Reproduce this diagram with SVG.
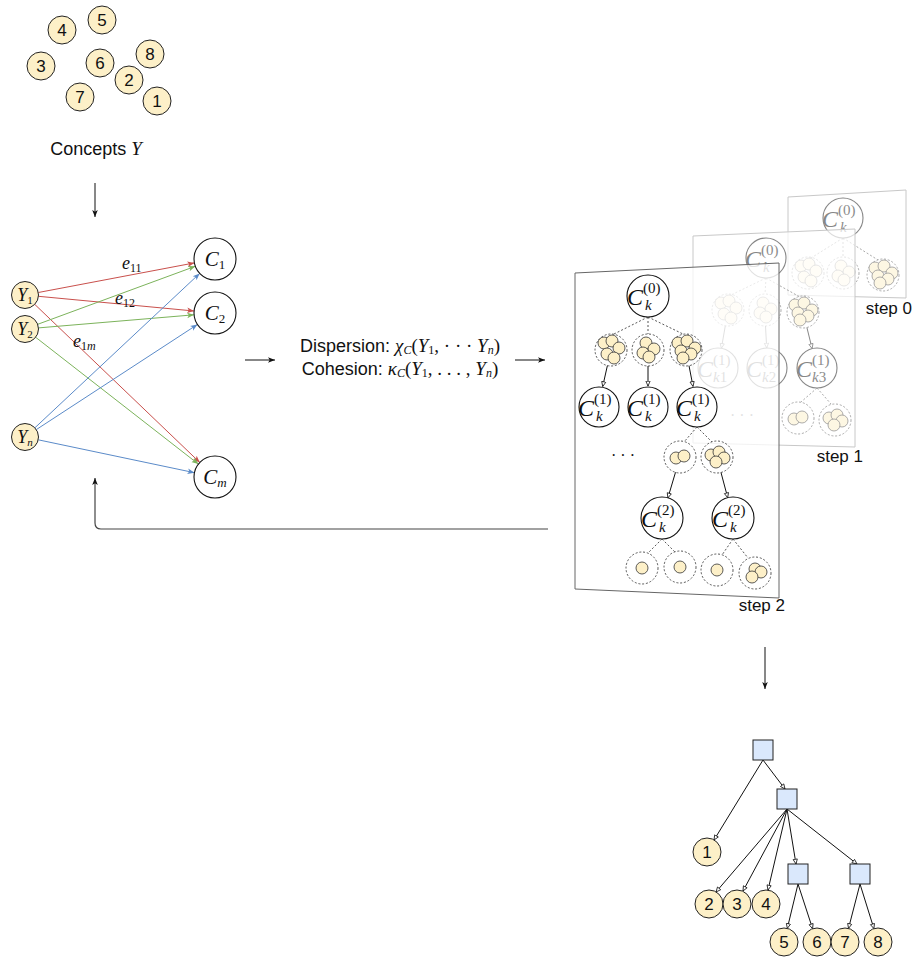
<svg xmlns="http://www.w3.org/2000/svg" width="913" height="960" viewBox="0 0 913 960">
<style>
.sans{font-family:"Liberation Sans","DejaVu Sans",sans-serif;fill:#111}
.m{font-family:"Liberation Serif","DejaVu Serif",serif;font-style:italic;fill:#111}
.u{font-family:"Liberation Serif","DejaVu Serif",serif;font-style:normal;fill:#111}
.yc{fill:#fdf0c8;stroke:#222;stroke-width:1}
.wn{fill:#fff;stroke:#111;stroke-width:1.1}
.dc{fill:none;stroke:#444;stroke-width:0.9;stroke-dasharray:2 1.8}
.dl{fill:none;stroke:#444;stroke-width:0.9;stroke-dasharray:2 2}
.sc{fill:#fdf0c8;stroke:#333;stroke-width:0.8}
.ar{fill:none;stroke:#111;stroke-width:1;marker-end:url(#oa)}
.sq{fill:#dae8fc;stroke:#222;stroke-width:1}
.bl{fill:none;stroke:#111;stroke-width:1;marker-end:url(#ah)}
.er{fill:none;stroke:#c9504c;stroke-width:1;marker-end:url(#ahR)}
.eg{fill:none;stroke:#7cb35b;stroke-width:1;marker-end:url(#ahG)}
.eb{fill:none;stroke:#5b8bc9;stroke-width:1;marker-end:url(#ahB)}
.num{font-family:"Liberation Sans","DejaVu Sans",sans-serif;font-size:17px;text-anchor:middle;fill:#111}
.big{font-size:24px}
.sm{font-size:15px}
</style>
<defs>
<marker id="ah" viewBox="0 0 10 10" refX="10" refY="5" markerWidth="7" markerHeight="7" orient="auto" markerUnits="userSpaceOnUse"><path d="M0,1 L10,5 L0,9 L2.5,5 z" fill="#111"/></marker>
<marker id="ahR" viewBox="0 0 10 10" refX="10" refY="5" markerWidth="7" markerHeight="7" orient="auto" markerUnits="userSpaceOnUse"><path d="M0,1 L10,5 L0,9 L2.5,5 z" fill="#c9504c"/></marker>
<marker id="ahG" viewBox="0 0 10 10" refX="10" refY="5" markerWidth="7" markerHeight="7" orient="auto" markerUnits="userSpaceOnUse"><path d="M0,1 L10,5 L0,9 L2.5,5 z" fill="#7cb35b"/></marker>
<marker id="ahB" viewBox="0 0 10 10" refX="10" refY="5" markerWidth="7" markerHeight="7" orient="auto" markerUnits="userSpaceOnUse"><path d="M0,1 L10,5 L0,9 L2.5,5 z" fill="#5b8bc9"/></marker>
<marker id="oa" viewBox="0 0 10 10" refX="9" refY="5" markerWidth="6" markerHeight="6" orient="auto" markerUnits="userSpaceOnUse"><path d="M1,1.5 L9,5 L1,8.5 z" fill="#fff" stroke="#111" stroke-width="1.3"/></marker>
<g id="k5"><circle class="dc" r="16"/><circle class="sc" cx="-7" cy="-7" r="6"/><circle class="sc" cx="1" cy="-9" r="6"/><circle class="sc" cx="8" cy="-2" r="6"/><circle class="sc" cx="-4" cy="4" r="6"/><circle class="sc" cx="3" cy="8" r="6"/></g>
<g id="k4"><circle class="dc" r="16"/><circle class="sc" cx="-2" cy="-7" r="6"/><circle class="sc" cx="6" cy="-1" r="6"/><circle class="sc" cx="-5" cy="3" r="6"/><circle class="sc" cx="1" cy="7" r="6"/></g>
<g id="k6"><circle class="dc" r="16"/><circle class="sc" cx="-8" cy="-7" r="6"/><circle class="sc" cx="1" cy="-9" r="6"/><circle class="sc" cx="9" cy="-2" r="6"/><circle class="sc" cx="-5" cy="1" r="6"/><circle class="sc" cx="5" cy="4" r="6"/><circle class="sc" cx="-3" cy="8" r="6"/></g>
<g id="k2"><circle class="dc" r="16"/><circle class="sc" cx="-4" cy="1" r="6"/><circle class="sc" cx="4" cy="-1" r="6"/></g>
<g id="k4b"><circle class="dc" r="16"/><circle class="sc" cx="-6" cy="-2" r="6"/><circle class="sc" cx="2" cy="-5" r="6"/><circle class="sc" cx="7" cy="1" r="6"/><circle class="sc" cx="-1" cy="5" r="6"/></g>
<g id="k3"><circle class="dc" r="16"/><circle class="sc" cx="0" cy="-4" r="6"/><circle class="sc" cx="6" cy="-1" r="6"/><circle class="sc" cx="-3" cy="4" r="6"/></g>
<g id="k1"><circle class="dc" r="16"/><circle class="sc" cx="0" cy="0" r="6"/></g>
</defs>

<!-- Concepts -->
<g id="concepts">
<g id="c4"><circle class="yc" cx="62" cy="30" r="14"/><text class="num" x="62" y="36">4</text></g>
<g id="c5"><circle class="yc" cx="102" cy="20" r="14"/><text class="num" x="102" y="26">5</text></g>
<g id="c3"><circle class="yc" cx="41" cy="66" r="14"/><text class="num" x="41" y="72">3</text></g>
<g id="c6"><circle class="yc" cx="100" cy="63" r="14"/><text class="num" x="100" y="69">6</text></g>
<g id="c8"><circle class="yc" cx="150" cy="54" r="14"/><text class="num" x="150" y="60">8</text></g>
<g id="c2"><circle class="yc" cx="129" cy="80" r="14"/><text class="num" x="129" y="86">2</text></g>
<g id="c7"><circle class="yc" cx="80" cy="97" r="14"/><text class="num" x="80" y="103">7</text></g>
<g id="c1"><circle class="yc" cx="157" cy="101" r="14"/><text class="num" x="157" y="107">1</text></g>
<text x="96" y="155" text-anchor="middle" font-size="18"><tspan class="sans">Concepts </tspan><tspan class="m" font-size="19">Y</tspan></text>
</g>

<!-- Bipartite graph -->
<g id="bip-edges">
<path class="er" d="M38.3,292.5 L194.4,262.9"/>
<path class="er" d="M38.4,296.3 L194.1,311"/>
<path class="er" d="M34.7,304.3 L199.8,462.5"/>
<path class="eg" d="M37.7,324.3 L195.3,266.3"/>
<path class="eg" d="M38.4,327.9 L194.1,314.8"/>
<path class="eg" d="M35.7,337.3 L198.4,464.1"/>
<path class="eb" d="M34.9,427.8 L199.7,273.4"/>
<path class="eb" d="M36.3,429.6 L197.4,324.5"/>
<path class="eb" d="M38.2,439.8 L194.5,472.7"/>
<text class="m" x="122" y="269" font-size="18">e<tspan class="u" font-size="12" dy="3">11</tspan></text>
<text class="m" x="115" y="304" font-size="18">e<tspan class="u" font-size="12" dy="3">12</tspan></text>
<text class="m" x="73" y="347" font-size="18">e<tspan class="u" font-size="12" dy="3">1</tspan><tspan font-size="12">m</tspan></text>
</g>
<g id="Y1"><circle class="yc" cx="25" cy="295" r="13.5"/><text class="m" x="25" y="301" font-size="18" text-anchor="middle">Y<tspan class="u" font-size="11" dy="3">1</tspan></text></g>
<g id="Y2"><circle class="yc" cx="25" cy="329" r="13.5"/><text class="m" x="25" y="335" font-size="18" text-anchor="middle">Y<tspan class="u" font-size="11" dy="3">2</tspan></text></g>
<g id="Yn"><circle class="yc" cx="25" cy="437" r="13.5"/><text class="m" x="25" y="443" font-size="18" text-anchor="middle">Y<tspan font-size="11" dy="3">n</tspan></text></g>
<g id="C1"><circle class="wn" cx="215" cy="259" r="21"/><text class="m" x="215" y="266" font-size="21" text-anchor="middle">C<tspan class="u" font-size="13" dy="3">1</tspan></text></g>
<g id="C2"><circle class="wn" cx="215" cy="313" r="21"/><text class="m" x="215" y="320" font-size="21" text-anchor="middle">C<tspan class="u" font-size="13" dy="3">2</tspan></text></g>
<g id="Cm"><circle class="wn" cx="215" cy="477" r="21"/><text class="m" x="215" y="484" font-size="21" text-anchor="middle">C<tspan font-size="13" dy="3">m</tspan></text></g>

<!-- Middle formula -->
<g id="formula">
<text x="400" y="352" text-anchor="middle" font-size="18"><tspan class="sans">Dispersion: </tspan><tspan class="m" font-size="19">χ</tspan><tspan class="m" font-size="12" dy="2">C</tspan><tspan class="u" font-size="19" dy="-2">(</tspan><tspan class="m" font-size="19">Y</tspan><tspan class="u" font-size="12" dy="2">1</tspan><tspan class="u" font-size="19" dy="-2">, · · · </tspan><tspan class="m" font-size="19">Y</tspan><tspan class="m" font-size="12" dy="2">n</tspan><tspan class="u" font-size="19" dy="-2">)</tspan></text>
<text x="400" y="375" text-anchor="middle" font-size="18"><tspan class="sans">Cohesion: </tspan><tspan class="m" font-size="19">κ</tspan><tspan class="m" font-size="12" dy="2">C</tspan><tspan class="u" font-size="19" dy="-2">(</tspan><tspan class="m" font-size="19">Y</tspan><tspan class="u" font-size="12" dy="2">1</tspan><tspan class="u" font-size="19" dy="-2">, . . . , </tspan><tspan class="m" font-size="19">Y</tspan><tspan class="m" font-size="12" dy="2">n</tspan><tspan class="u" font-size="19" dy="-2">)</tspan></text>
</g>

<!-- Step 0 -->
<g id="step0">
<polygon points="788,197 906,190 906,298 788,295" fill="#fff" stroke="#c8c8c8" stroke-width="1"/>
<g opacity="0.5">
<path class="dl" d="M843,238 L811,258 M843,238 L843,257 M843,238 L878,260"/>
<use href="#k5" x="808" y="273"/>
<use href="#k4" x="843" y="273"/>
<use href="#k6" x="883" y="275"/>
<circle class="wn" cx="843" cy="218" r="20"/>
<text class="m big" x="822" y="227">C</text><text class="u sm" x="838" y="215">(0)</text><text class="m sm" x="840" y="232">k</text>
</g>
<text class="sans" x="912" y="314" font-size="17" text-anchor="end">step 0</text>
</g>

<!-- Step 1 -->
<g id="step1">
<polygon points="693,236 855,229 855,447 693,443" fill="#fff" fill-opacity="0.7" stroke="#c8c8c8" stroke-width="1"/>
<g opacity="0.5">
<path class="dl" d="M766,278 L731,295 M766,278 L765,294 M766,278 L800,297"/>
<use href="#k5" x="728" y="310"/>
<use href="#k4" x="765" y="310"/>
<use href="#k6" x="803" y="312"/>
<path class="ar" d="M725.3,325.8 L721.4,348.3"/>
<path class="ar" d="M765.5,326 L766.7,348"/>
<path class="ar" d="M806.9,327.5 L812.1,348.6"/>
<circle class="wn" cx="766" cy="258" r="20"/>
<text class="m big" x="745" y="267">C</text><text class="u sm" x="761" y="255">(0)</text><text class="m sm" x="763" y="272">k</text>
<circle class="wn" cx="718" cy="368" r="20"/>
<text class="m big" x="697" y="377">C</text><text class="u sm" x="713" y="365">(1)</text><text class="m sm" x="713" y="382">k<tspan class="u">1</tspan></text>
<circle class="wn" cx="767" cy="368" r="20"/>
<text class="m big" x="746" y="377">C</text><text class="u sm" x="762" y="365">(1)</text><text class="m sm" x="762" y="382">k<tspan class="u">2</tspan></text>
<circle class="wn" cx="817" cy="368" r="20"/>
<text class="m big" x="796" y="377">C</text><text class="u sm" x="812" y="365">(1)</text><text class="m sm" x="812" y="382">k<tspan class="u">3</tspan></text>
<path class="dl" d="M817,388 L801,402 M817,388 L831,404"/>
<use href="#k2" x="798" y="418"/>
<use href="#k4b" x="835" y="420"/>
<text class="u" x="742" y="421" font-size="16" text-anchor="middle">· · ·</text>
</g>
<text class="sans" x="863" y="462" font-size="17" text-anchor="end">step 1</text>
</g>

<!-- Step 2 (front) -->
<g id="step2">
<polygon points="575,273 779,263 779,598 575,589" fill="#fff" fill-opacity="0.75" stroke="#666" stroke-width="1"/>
<path class="dl" d="M648,317 L614,334 M648,317 L648,334 M648,317 L683,334"/>
<use href="#k5" x="611" y="350"/>
<use href="#k4" x="648" y="350"/>
<use href="#k6" x="686" y="350"/>
<path class="ar" d="M607.4,365.6 L602.7,386.5"/>
<path class="ar" d="M648,366 L648,386"/>
<path class="ar" d="M689,365.7 L693,386.4"/>
<g id="s2-root"><circle class="wn" cx="648" cy="296" r="21"/>
<text class="m big" x="627" y="305">C</text><text class="u sm" x="643" y="293">(0)</text><text class="m sm" x="645" y="310">k</text></g>
<g id="s2-a"><circle class="wn" cx="599" cy="407" r="20"/>
<text class="m big" x="578" y="416">C</text><text class="u sm" x="594" y="404">(1)</text><text class="m sm" x="596" y="421">k</text></g>
<g id="s2-b"><circle class="wn" cx="648" cy="407" r="20"/>
<text class="m big" x="627" y="416">C</text><text class="u sm" x="643" y="404">(1)</text><text class="m sm" x="645" y="421">k</text></g>
<g id="s2-c"><circle class="wn" cx="697" cy="407" r="20"/>
<text class="m big" x="676" y="416">C</text><text class="u sm" x="692" y="404">(1)</text><text class="m sm" x="694" y="421">k</text></g>
<path class="dl" d="M697,427 L684,442 M697,427 L712,442"/>
<use href="#k2" x="680" y="457"/>
<use href="#k4b" x="717" y="457"/>
<text class="u" x="623" y="461" font-size="16" text-anchor="middle">· · ·</text>
<path class="ar" d="M675.5,472.3 L667.9,497.9"/>
<path class="ar" d="M721,472.5 L727.7,497.7"/>
<g id="s2-d"><circle class="wn" cx="662" cy="518" r="21"/>
<text class="m big" x="641" y="527">C</text><text class="u sm" x="657" y="515">(2)</text><text class="m sm" x="659" y="532">k</text></g>
<g id="s2-e"><circle class="wn" cx="733" cy="518" r="21"/>
<text class="m big" x="712" y="527">C</text><text class="u sm" x="728" y="515">(2)</text><text class="m sm" x="730" y="532">k</text></g>
<path class="dl" d="M662,539 L648,553 M662,539 L675,552 M733,539 L722,555 M733,539 L748,558"/>
<use href="#k1" x="642" y="568"/>
<use href="#k1" x="680" y="567"/>
<use href="#k1" x="717" y="570"/>
<use href="#k3" x="755" y="573"/>
<text class="sans" x="785" y="611" font-size="17" text-anchor="end">step 2</text>
</g>

<!-- Connectors between stages -->
<g id="connectors">
<path class="bl" d="M95,183 L95,217"/>
<path class="bl" d="M245,360 L275,360"/>
<path class="bl" d="M515,360 L545,360"/>
<path d="M548,529 H101 Q95,529 95,523 V478" fill="none" stroke="#444" stroke-width="1.2" marker-end="url(#ah)"/>
<path class="bl" d="M765,647 L765,689"/>
</g>

<!-- Final tree -->
<g id="tree-edges">
<path class="ar" d="M763,760 L714,840"/>
<path class="ar" d="M763,760 L785,789"/>
<path class="ar" d="M787,809 L716,892"/>
<path class="ar" d="M787,809 L743,891"/>
<path class="ar" d="M787,809 L768,890"/>
<path class="ar" d="M787,809 L796,864"/>
<path class="ar" d="M787,809 L857,864"/>
<path class="ar" d="M798,884 L787.3,928.4"/>
<path class="ar" d="M798,884 L812.6,928.7"/>
<path class="ar" d="M860,884 L848.5,928.4"/>
<path class="ar" d="M860,884 L873.9,928.6"/>
</g>
<g id="t-root"><rect class="sq" x="753" y="740" width="20" height="20"/></g>
<g id="t-s2"><rect class="sq" x="777" y="789" width="20" height="20"/></g>
<g id="t-s3"><rect class="sq" x="788" y="864" width="20" height="20"/></g>
<g id="t-s4"><rect class="sq" x="850" y="864" width="20" height="20"/></g>
<g id="t1"><circle class="yc" cx="707" cy="852" r="14"/><text class="num" x="707" y="858">1</text></g>
<g id="t2"><circle class="yc" cx="709" cy="904" r="14"/><text class="num" x="709" y="910">2</text></g>
<g id="t3"><circle class="yc" cx="737" cy="904" r="14"/><text class="num" x="737" y="910">3</text></g>
<g id="t4"><circle class="yc" cx="766" cy="904" r="14"/><text class="num" x="766" y="910">4</text></g>
<g id="t5"><circle class="yc" cx="784" cy="942" r="14"/><text class="num" x="784" y="948">5</text></g>
<g id="t6"><circle class="yc" cx="817" cy="942" r="14"/><text class="num" x="817" y="948">6</text></g>
<g id="t7"><circle class="yc" cx="845" cy="942" r="14"/><text class="num" x="845" y="948">7</text></g>
<g id="t8"><circle class="yc" cx="878" cy="942" r="14"/><text class="num" x="878" y="948">8</text></g>
</svg>
